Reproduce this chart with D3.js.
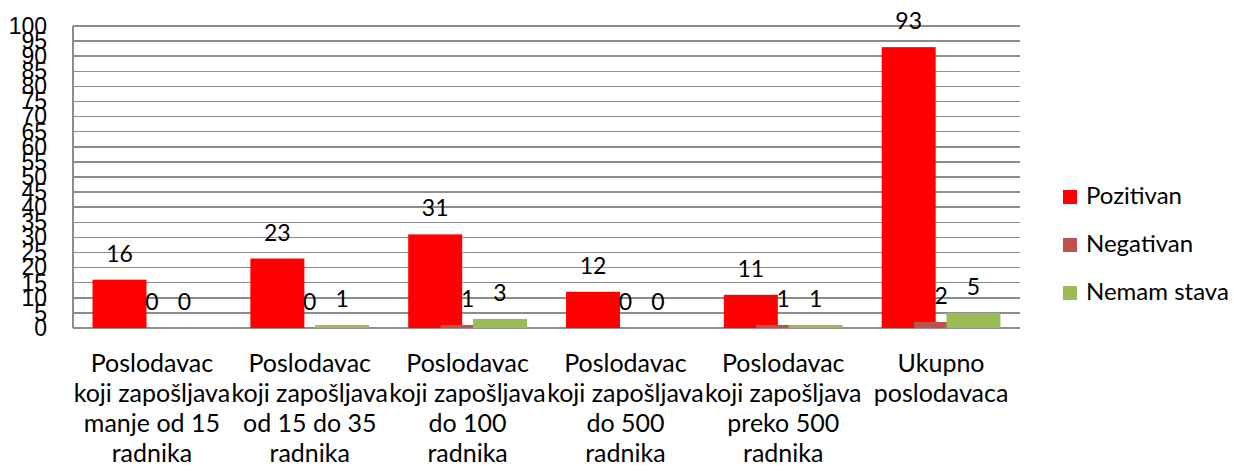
<!DOCTYPE html>
<html lang="hr">
<head>
<meta charset="utf-8">
<script src="https://cdn.jsdelivr.net/npm/d3@7"></script>
<style type="text/css">

body {
	margin: 0;
	background-color: #ffffff;
	font-family: Lato, 'Open Sans', sans-serif;
}

.grid line {
	stroke: #8c8c8c;
	stroke-width: 1.5;
	shape-rendering: crispEdges;
}

text {
	font-size: 23px;
	fill: #000;
}

.cat text { font-size: 25px; }
.legend text { font-size: 24px; }

</style>
</head>
<body>
<script type="text/javascript">

// categories (already split into lines as on the chart)
var categories = [
	["Poslodavac", "koji zapošljava", "manje od 15", "radnika"],
	["Poslodavac", "koji zapošljava", "od 15 do 35", "radnika"],
	["Poslodavac", "koji zapošljava", "do 100", "radnika"],
	["Poslodavac", "koji zapošljava", "do 500", "radnika"],
	["Poslodavac", "koji zapošljava", "preko 500", "radnika"],
	["Ukupno", "poslodavaca"]
];

var seriesNames = ["Pozitivan", "Negativan", "Nemam stava"];
var seriesColors = ["#ff0000", "#c0504d", "#9bbb59"];

var pozitivan = [16, 23, 31, 12, 11, 93];
var negativan = [0, 0, 1, 0, 1, 2];
var nemamStava = [0, 1, 3, 0, 1, 5];

var yTicks = d3.range(0, 101, 5);

var width = 1234;
var height = 471;

var margin = { left: 73, right: 214, top: 26, bottom: 143 };

var svg = d3.select("body")
	.append("svg")
	.attr("width", width)
	.attr("height", height);

var series = [pozitivan, negativan, nemamStava];
var catKeys = categories.map(function(d) { return d.join(" "); });

var x = d3.scaleBand()
	.domain(catKeys)
	.range([margin.left, width - margin.right]);

var y = d3.scaleLinear()
	.domain([0, 100])
	.range([height - margin.bottom, margin.top]);

// bar geometry inside one category (Excel style overlap)
var bw = x.bandwidth();
var barW = bw * 0.342;
var step = barW * 0.6;
var groupW = step * (series.length - 1) + barW;
var offset = (bw - groupW) / 2;

// gridlines
svg.append("g")
	.attr("class", "grid")
	.selectAll("line")
	.data(yTicks)
	.enter()
	.append("line")
	.attr("x1", margin.left)
	.attr("x2", width - margin.right)
	.attr("y1", function(d) { return y(d); })
	.attr("y2", function(d) { return y(d); });

// left axis line
svg.append("g")
	.attr("class", "grid")
	.append("line")
	.attr("x1", margin.left)
	.attr("x2", margin.left)
	.attr("y1", y(0))
	.attr("y2", y(100));

// y tick labels
var yAxis = d3.axisLeft(y).tickValues(yTicks).tickSize(0).tickPadding(26);
var yg = svg.append("g")
	.attr("transform", "translate(" + margin.left + ",0)")
	.call(yAxis);
yg.select(".domain").remove();
yg.selectAll("text")
	.attr("font-family", null)
	.attr("font-size", null)
	.attr("fill", null);

// bars
series.forEach(function(vals, s) {
	svg.append("g")
		.selectAll("rect")
		.data(vals)
		.enter()
		.append("rect")
		.attr("x", function(d, i) { return x(catKeys[i]) + offset + s * step; })
		.attr("y", function(d) { return y(d); })
		.attr("width", barW)
		.attr("height", function(d) { return y(0) - y(d); })
		.style("fill", seriesColors[s]);
});

// value labels
series.forEach(function(vals, s) {
	svg.append("g")
		.selectAll("text")
		.data(vals)
		.enter()
		.append("text")
		.attr("x", function(d, i) { return x(catKeys[i]) + offset + s * step + barW / 2; })
		.attr("y", function(d) { return y(d) - 18; })
		.attr("text-anchor", "middle")
		.text(function(d) { return d; });
});

// category labels
var cat = svg.append("g")
	.attr("class", "cat")
	.selectAll("text")
	.data(categories)
	.enter()
	.append("text")
	.attr("text-anchor", "middle")
	.attr("x", function(d, i) { return x(catKeys[i]) + bw / 2; })
	.attr("y", 372);

cat.selectAll("tspan")
	.data(function(d) { return d; })
	.enter()
	.append("tspan")
	.attr("x", function() { return d3.select(this.parentNode).attr("x"); })
	.attr("dy", function(d, i) { return i == 0 ? 0 : 30; })
	.text(function(d) { return d; });

// legend
var legend = svg.append("g")
	.attr("class", "legend")
	.selectAll("g")
	.data(seriesNames)
	.enter()
	.append("g")
	.attr("transform", function(d, i) { return "translate(1063," + (190 + i * 48) + ")"; });

legend.append("rect")
	.attr("width", 14)
	.attr("height", 14)
	.style("fill", function(d, i) { return seriesColors[i]; });

legend.append("text")
	.attr("x", 23)
	.attr("y", 14)
	.text(function(d) { return d; });

</script>
</body>
</html>
